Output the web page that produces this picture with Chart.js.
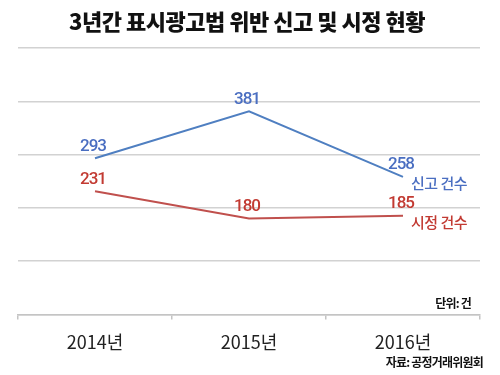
<!DOCTYPE html>
<html>
<head>
<meta charset="utf-8">
<script src="https://cdn.jsdelivr.net/npm/chart.js@4"></script>
<style>
  html, body { margin: 0; padding: 0; background: #fff; }
  #wrap { width: 500px; height: 375px; position: relative; }
</style>
</head>
<body>
<div id="wrap"><canvas id="chart"></canvas></div>
<script>
const years = ['2014년', '2015년', '2016년'];
const reports = [293, 381, 258];
const corrections = [231, 180, 185];
const seriesNames = ['신고 건수', '시정 건수'];
const yTicks = [0, 100, 200, 300, 400, 500];

const blue = '#4f7fc1';
const blueText = '#4a6ec1';
const red = '#c0504d';
const redText = '#c23a32';

// labels, series names and notes drawn on top of the chart
const labelPlugin = {
    id: 'labels',
    afterDraw(chart) {
        const ctx = chart.ctx;
        const area = chart.chartArea;
        ctx.save();

        // title
        ctx.font = '900 22px "Noto Sans CJK KR"';
        ctx.fillStyle = '#111';
        ctx.textAlign = 'center';
        ctx.textBaseline = 'middle';
        ctx.letterSpacing = '-0.5px';
        ctx.fillText('3년간 표시광고법 위반 신고 및 시정 현황', 247, 22);

        // value labels
        const colors = [blueText, redText];
        chart.data.datasets.forEach((ds, i) => {
            const meta = chart.getDatasetMeta(i);
            ctx.fillStyle = colors[i];
            ctx.font = '500 17px Roboto';
            ctx.letterSpacing = '-1px';
            ctx.textAlign = 'center';
            meta.data.forEach((pt, j) => {
                ctx.fillText(String(ds.data[j]), pt.x - 2, pt.y - 12);
            });
            // series name to the right of last point
            const last = meta.data[meta.data.length - 1];
            ctx.font = '500 15px "Noto Sans CJK KR"';
            ctx.letterSpacing = '-0.5px';
            ctx.textAlign = 'left';
            ctx.fillText(seriesNames[i], last.x + 8, last.y + 6);
        });

        // unit and source
        ctx.font = 'bold 12px "Noto Sans CJK KR"';
        ctx.fillStyle = '#111';
        ctx.textAlign = 'right';
        ctx.letterSpacing = '-0.8px';
        ctx.fillText('단위: 건', area.right - 9, area.bottom - 11);
        ctx.fillText('자료: 공정거래위원회', area.right + 3, 362);
        ctx.restore();
    }
};

new Chart(document.getElementById('chart'), {
    type: 'line',
    data: {
        labels: years,
        datasets: [
            {
                label: seriesNames[0],
                data: reports,
                borderColor: blue,
                borderWidth: 2,
                pointRadius: 0,
                tension: 0
            },
            {
                label: seriesNames[1],
                data: corrections,
                borderColor: red,
                borderWidth: 2,
                pointRadius: 0,
                tension: 0
            }
        ]
    },
    options: {
        responsive: true,
        maintainAspectRatio: false,
        animation: false,
        layout: {
            padding: { left: 18, right: 20, top: 48, bottom: 10 }
        },
        scales: {
            x: {
                offset: true,
                grid: {
                    offset: true,
                    drawOnChartArea: false,
                    drawTicks: true,
                    tickLength: 5,
                    color: '#c4c4c4',
                    lineWidth: 1.5
                },
                border: { color: '#c4c4c4', width: 1.5 },
                ticks: {
                    font: { family: '"Noto Sans CJK KR"', size: 18 },
                    color: '#222',
                    padding: 12
                }
            },
            y: {
                min: yTicks[0],
                max: yTicks[yTicks.length - 1],
                afterBuildTicks(axis) {
                    axis.ticks = yTicks.map(v => ({ value: v }));
                },
                grid: {
                    color: '#d2d2d2',
                    lineWidth: 1.5,
                    drawTicks: false
                },
                border: { display: false },
                ticks: { display: false }
            }
        },
        plugins: {
            legend: { display: false },
            tooltip: { enabled: false }
        }
    },
    plugins: [labelPlugin]
});
</script>
</body>
</html>
